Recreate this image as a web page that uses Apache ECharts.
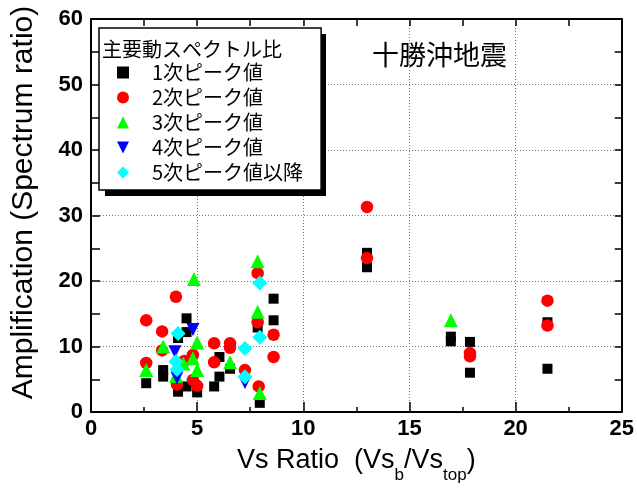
<!DOCTYPE html>
<html>
<head>
<meta charset="utf-8">
<script src="https://cdn.jsdelivr.net/npm/echarts@6/dist/echarts.min.js"></script>
<style>html,body{margin:0;padding:0;background:#fff;}#chart{width:637px;height:493px;}</style>
</head>
<body>
<div id="chart"></div>
<script>
// Data: [Vs ratio, amplification]
const seriesNames = ['1次ピーク値', '2次ピーク値', '3次ピーク値', '4次ピーク値', '5次ピーク値以降'];
const peak1 = [[2.6,4.4],[3.4,6.4],[3.4,5.4],[4.1,11.3],[4.1,3.1],[4.5,14.3],[4.5,12.2],[4.5,3.9],[5.0,3.0],[5.8,3.9],[6.05,5.4],[6.05,8.4],[6.55,6.6],[7.85,12.9],[7.95,1.4],[8.6,17.3],[8.6,14.0],[13.0,24.3],[13.0,22.1],[16.95,11.5],[16.95,10.8],[17.85,10.7],[17.85,6.0],[21.5,13.7],[21.5,6.6]];
const peak2 = [[2.6,14.0],[2.6,7.5],[3.35,12.3],[3.35,9.4],[4.0,17.6],[4.05,4.2],[4.4,7.8],[4.8,8.7],[4.8,4.9],[5.0,4.0],[5.8,10.5],[5.8,7.6],[6.55,10.5],[6.55,9.8],[7.25,6.4],[7.9,3.9],[7.85,21.2],[7.85,13.7],[8.6,11.8],[8.6,8.4],[13.0,31.3],[13.0,23.5],[17.85,9.0],[17.85,8.5],[21.5,17.0],[21.5,13.2]];
const peak3 = [[2.6,6.4],[3.4,10.0],[4.0,5.5],[4.35,7.4],[4.85,20.3],[5.0,10.6],[4.8,8.2],[5.0,6.4],[6.55,7.6],[7.85,23.0],[7.85,15.3],[7.95,2.9],[16.95,14.0]];
const peak4 = [[4.8,12.6],[3.95,9.2],[4.05,5.2],[7.25,4.5]];
const peak5 = [[4.1,12.0],[4.0,7.7],[4.05,6.5],[7.25,9.7],[7.25,5.4],[7.95,19.7],[7.95,11.4]];
const xTicks = { min: 0, max: 25, interval: 5 };
const yTicks = { min: 0, max: 60, interval: 10 };
const chartTitle = '十勝沖地震';
const legendTitle = '主要動スペクトル比';

const chart = echarts.init(document.getElementById('chart'), null, { renderer: 'canvas' });
const numFont = '"Liberation Sans", Arial, sans-serif';
const cjkFont = '"Noto Sans CJK JP", "Noto Sans", sans-serif';
const downTri = 'path://M0,0 L10,0 L5,10 Z';

function sc(name, data, symbol, size, color) {
  return { name, type: 'scatter', data, symbol, symbolSize: size, xAxisIndex: 0, yAxisIndex: 0,
    itemStyle: { color, opacity: 1 }, emphasis: { disabled: true }, animation: false };
}

const option = {
  animation: false,
  backgroundColor: '#fff',
  graphic: [
    { type: 'rect', z: 1, silent: true, shape: { x: 105, y: 34, width: 221, height: 162 }, style: { fill: '#000' } }
  ],
  title: [
    { text: legendTitle, left: 102, top: 38, padding: 0, z: 10,
      textStyle: { fontFamily: cjkFont, fontSize: 20, fontWeight: 'normal', color: '#000', lineHeight: 22 } },
    { text: chartTitle, left: 372, top: 41, padding: 0,
      textStyle: { fontFamily: cjkFont, fontSize: 27, fontWeight: 'normal', color: '#000', lineHeight: 28 } }
  ],
  legend: {
    orient: 'vertical', left: 99, top: 28, z: 5,
    padding: [32, 18, 5, 18],
    itemWidth: 12, itemHeight: 12, itemGap: 0,
    backgroundColor: '#fff', borderColor: '#000', borderWidth: 1.5,
    textStyle: { fontFamily: cjkFont, fontSize: 20, color: '#000', lineHeight: 25, padding: [0, 0, 0, 18] },
    data: seriesNames,
    selectedMode: false
  },
  grid: { left: 91, right: 12, top: 19, bottom: 81, containLabel: false },
  xAxis: [
    { type: 'value', position: 'bottom', min: xTicks.min, max: xTicks.max, interval: xTicks.interval,
      name: '{m|Vs Ratio  (Vs}{s|b}{m|/Vs}{s|top}{m|)}',
      nameLocation: 'middle', nameGap: 30,
      nameTextStyle: { rich: {
        m: { fontFamily: numFont, fontSize: 27, color: '#000', lineHeight: 32, verticalAlign: 'bottom' },
        s: { fontFamily: numFont, fontSize: 17, color: '#000', lineHeight: 32, verticalAlign: 'bottom', padding: [0, 0, -10, 0] } } },
      axisLine: { lineStyle: { color: '#000', width: 2 } },
      axisTick: { inside: true, length: 10, lineStyle: { color: '#000', width: 1.5 } },
      minorTick: { show: true, splitNumber: 2, length: 5, lineStyle: { color: '#000', width: 1.5 } },
      axisLabel: { margin: 6, fontFamily: numFont, fontWeight: 'bold', fontSize: 22, color: '#000' },
      splitLine: { show: true, lineStyle: { color: '#777', type: [1, 2], width: 1 } }
    },
    { type: 'value', position: 'top', min: xTicks.min, max: xTicks.max, interval: 2.5,
      axisLine: { onZero: false, lineStyle: { color: '#000', width: 2 } },
      axisTick: { inside: true, length: 7, lineStyle: { color: '#000', width: 1.5 } },
      axisLabel: { show: false }, splitLine: { show: false } }
  ],
  yAxis: [
    { type: 'value', position: 'left', min: yTicks.min, max: yTicks.max, interval: yTicks.interval,
      name: 'Amplification (Spectrum ratio)', nameLocation: 'middle', nameGap: 52,
      nameTextStyle: { fontFamily: numFont, fontSize: 30, color: '#000', padding: [0, 0, 0, 26] },
      axisLine: { onZero: false, lineStyle: { color: '#000', width: 2 } },
      axisTick: { inside: true, length: 9, lineStyle: { color: '#000', width: 1.5 } },
      minorTick: { show: true, splitNumber: 2, length: 9, lineStyle: { color: '#000', width: 1.5 } },
      axisLabel: { margin: 8, fontFamily: numFont, fontWeight: 'bold', fontSize: 22, color: '#000' },
      splitLine: { show: true, lineStyle: { color: '#777', type: [1, 2], width: 1 } }
    },
    { type: 'value', position: 'right', min: yTicks.min, max: yTicks.max, interval: 5,
      axisLine: { onZero: false, lineStyle: { color: '#000', width: 2 } },
      axisTick: { inside: true, length: 7, lineStyle: { color: '#000', width: 1.5 } },
      axisLabel: { show: false }, splitLine: { show: false } }
  ],
  series: [
    sc(seriesNames[0], peak1, 'rect', 10, '#000000'),
    sc(seriesNames[1], peak2, 'circle', 12.5, '#ff0000'),
    sc(seriesNames[2], peak3, 'triangle', 14, '#00ff00'),
    sc(seriesNames[3], peak4, downTri, 13, '#0000ff'),
    sc(seriesNames[4], peak5, 'diamond', 15, '#00ffff')
  ]
};
chart.setOption(option);
</script>
</body>
</html>
